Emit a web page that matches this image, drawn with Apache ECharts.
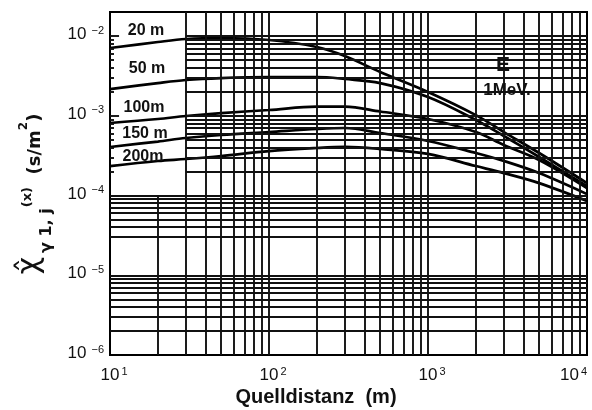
<!DOCTYPE html>
<html><head><meta charset="utf-8">
<script src="https://cdn.jsdelivr.net/npm/echarts@6/dist/echarts.min.js"></script>
<style>html,body{margin:0;padding:0;background:#fff}#c{width:592px;height:410px}</style>
</head><body><div id="c"></div>
<script>
// ---- data ----
const distances = [10, 20, 30, 50, 100, 200, 300, 500, 1000, 2000, 3000, 5000, 10000];
const chi20m  = [7.07e-3, 8.41e-3, 9.17e-3, 9.44e-3, 8.91e-3, 7.28e-3, 5.61e-3, 3.54e-3, 1.99e-3, 1.02e-3, 6.25e-4, 3.41e-4, 1.43e-4];
const chi50m  = [2.16e-3, 2.57e-3, 2.81e-3, 2.97e-3, 3.06e-3, 3.06e-3, 2.89e-3, 2.57e-3, 1.72e-3, 8.85e-4, 5.57e-4, 3.04e-4, 1.31e-4];
const chi100m = [8.11e-4, 9.10e-4, 9.93e-4, 1.08e-3, 1.18e-3, 1.30e-3, 1.30e-3, 1.13e-3, 9.10e-4, 6.25e-4, 4.30e-4, 2.79e-4, 1.24e-4];
const chi150m = [4.06e-4, 4.75e-4, 5.26e-4, 5.74e-4, 6.25e-4, 6.82e-4, 7.02e-4, 6.08e-4, 4.83e-4, 3.41e-4, 2.71e-4, 1.91e-4, 1.04e-4];
const chi200m = [2.34e-4, 2.71e-4, 2.87e-4, 3.13e-4, 3.61e-4, 3.94e-4, 4.06e-4, 3.83e-4, 3.32e-4, 2.34e-4, 1.91e-4, 1.43e-4, 8.53e-5];
const curveNames = ['20 m', '50 m', '100m', '150 m', '200m'];
const xTickExponents = [1, 2, 3, 4];
const yTickExponents = [-6, -5, -4, -3, -2];
const xRange = [10, 10000];
const yRange = [1e-6, 0.02];
const gridFactors = [1, 2, 3, 4, 5, 6, 7, 8, 9];
const missingHLines = [2e-5];

// ---- layout/style (not data) ----
const INK = '#111';
const curves = [chi20m, chi50m, chi100m, chi150m, chi200m];
const near = (a, b) => Math.abs(a - b) / b < 1e-6;

const segs = [];
const gStyle = { color: INK, width: 1.9, type: 'solid' };
for (let k = 1; k <= 3; k++) {
  gridFactors.forEach(f => {
    const v = f * Math.pow(10, k);
    if (near(v, xRange[0])) return;
    const yTop = near(v, 20) ? 1e-4 : yRange[1];
    segs.push([{ coord: [v, yRange[0]] }, { coord: [v, yTop] }]);
  });
}
for (let k = -6; k <= -2; k++) {
  gridFactors.forEach(f => {
    const v = f * Math.pow(10, k);
    if (v > yRange[1] * 1.0001 || near(v, yRange[0])) return;
    if (k === -2 && f > 1) return;
    if (missingHLines.some(m => near(v, m))) return;
    const xLeft = (v > 1.0001e-4) ? 30 : 10;
    segs.push([{ coord: [xLeft, v] }, { coord: [xRange[1], v] }]);
    if (v > 1.0001e-4) {
      const len = (f === 1) ? 11.4 : 10.6;
      segs.push([{ coord: [10, v] }, { coord: [len, v] }]);
    }
  });
}

const logLabel = (v) => {
  const l = Math.log10(v), e = Math.round(l);
  if (Math.abs(l - e) > 1e-6) return '';
  return '{b|10}{s|' + (e < 0 ? '\u2212' + (-e) : e) + '}';
};

const chart = echarts.init(document.getElementById('c'), null, { renderer: 'canvas' });
const series = [
  {
    type: 'line', data: [], z: 1, silent: true,
    markLine: { silent: true, symbol: 'none', animation: false, label: { show: false },
      lineStyle: gStyle, emphasis: { disabled: true }, data: segs }
  },
  {
    type: 'line', data: [], z: 2, silent: true,
    markArea: { silent: true, animation: false, itemStyle: { color: '#fff' }, label: { show: false },
      data: [
        [{ coord: [2350, 6.12e-3] }, { coord: [3900, 2.8e-3] }],
        [{ coord: [2060, 2.9e-3] }, { coord: [4850, 1.40e-3] }]
      ] }
  }
];
curves.forEach((arr, i) => {
  series.push({
    name: curveNames[i], type: 'line', z: 3, smooth: 0.35, showSymbol: false, symbol: 'none',
    lineStyle: { color: '#000', width: 2.7 }, animation: false,
    data: distances.map((d, j) => [d, arr[j]])
  });
});

const tickFont = 'Liberation Sans';
chart.setOption({
  animation: false,
  backgroundColor: '#fff',
  grid: { left: 110, right: 5, top: 12, bottom: 55, containLabel: false, outerBoundsMode: 'none',
          show: true, borderColor: '#000', borderWidth: 2, backgroundColor: '#fff', z: 0 },
  xAxis: {
    type: 'log', logBase: 10, min: xRange[0], max: xRange[1],
    axisLine: { show: false }, axisTick: { show: false }, splitLine: { show: false },
    axisLabel: {
      margin: 11, padding: [0, 0, 0, 8], hideOverlap: false, alignMaxLabel: 'right',
      formatter: v => xTickExponents.some(e => near(v, Math.pow(10, e))) ? logLabel(v) : '',
      rich: {
        b: { fontFamily: tickFont, fontSize: 17, lineHeight: 18, color: INK, verticalAlign: 'bottom' },
        s: { fontFamily: tickFont, fontSize: 11, lineHeight: 12, color: INK, verticalAlign: 'top', padding: [0, 0, 0, 2] }
      }
    }
  },
  yAxis: {
    type: 'log', logBase: 10, min: yRange[0], max: yRange[1],
    axisLine: { show: false }, axisTick: { show: false }, splitLine: { show: false },
    axisLabel: {
      margin: 6, showMaxLabel: false, padding: [0, 0, 4, 0],
      formatter: v => yTickExponents.some(e => near(v, Math.pow(10, e))) ? logLabel(v) : '',
      rich: {
        b: { fontFamily: tickFont, fontSize: 17, lineHeight: 18, color: INK, verticalAlign: 'bottom' },
        s: { fontFamily: tickFont, fontSize: 11, lineHeight: 12, color: INK, verticalAlign: 'top', padding: [0, 0, 0, 5] }
      }
    }
  },
  series: series,
  graphic: [
    { type: 'text', z: 10, x: 316, y: 397, style: { text: 'Quelldistanz  (m)', fill: INK,
        font: 'bold 20px "Liberation Sans"', align: 'center', verticalAlign: 'middle' } },
    { type: 'text', z: 10, x: 35, y: 194, rotation: Math.PI / 2,
      style: {
        text: '{chi|\u03C7\u0302}{sub|\u03B3 1, j}{x|(x)}{n|  (s/m}{sup|2}{n|)}',
        align: 'center', verticalAlign: 'middle', fill: INK,
        rich: {
          chi: { fontFamily: 'DejaVu Sans', fontSize: 30, verticalAlign: 'top', fill: INK, padding: [0, 4, 0, 0] },
          sub: { fontFamily: 'DejaVu Sans', fontSize: 16, verticalAlign: 'bottom', fill: INK, fontWeight: 'bold' },
          x: { fontFamily: 'DejaVu Sans', fontSize: 13, verticalAlign: 'top', fill: INK, fontWeight: 'bold', padding: [6, 0, 0, 1] },
          n: { fontFamily: 'DejaVu Sans', fontSize: 18, lineHeight: 40, verticalAlign: 'middle', fill: INK, fontWeight: 'bold' },
          sup: { fontFamily: 'DejaVu Sans', fontSize: 12, verticalAlign: 'top', fill: INK, fontWeight: 'bold', padding: [3, 0, 0, 0] }
        }
      } },
    { type: 'text', z: 10, x: 146, y: 31, style: { text: curveNames[0], fill: INK, font: 'bold 16px "Liberation Sans"', align: 'center', verticalAlign: 'middle' } },
    { type: 'text', z: 10, x: 147, y: 69, style: { text: curveNames[1], fill: INK, font: 'bold 16px "Liberation Sans"', align: 'center', verticalAlign: 'middle' } },
    { type: 'text', z: 10, x: 144, y: 108, style: { text: curveNames[2], fill: INK, font: 'bold 16px "Liberation Sans"', align: 'center', verticalAlign: 'middle' } },
    { type: 'text', z: 10, x: 145, y: 134, style: { text: curveNames[3], fill: INK, font: 'bold 16px "Liberation Sans"', align: 'center', verticalAlign: 'middle' } },
    { type: 'text', z: 10, x: 143, y: 157, style: { text: curveNames[4], fill: INK, font: 'bold 16px "Liberation Sans"', align: 'center', verticalAlign: 'middle' } },
    { type: 'text', z: 10, x: 503, y: 65, style: { text: 'E', fill: INK, font: 'bold 21px "Liberation Sans"', align: 'center', verticalAlign: 'middle' } },
    { type: 'text', z: 10, x: 507, y: 90, style: { text: '1MeV.', fill: INK, font: 'bold 17px "Liberation Sans"', align: 'center', verticalAlign: 'middle' } }
  ]
});
</script>
</body></html>
